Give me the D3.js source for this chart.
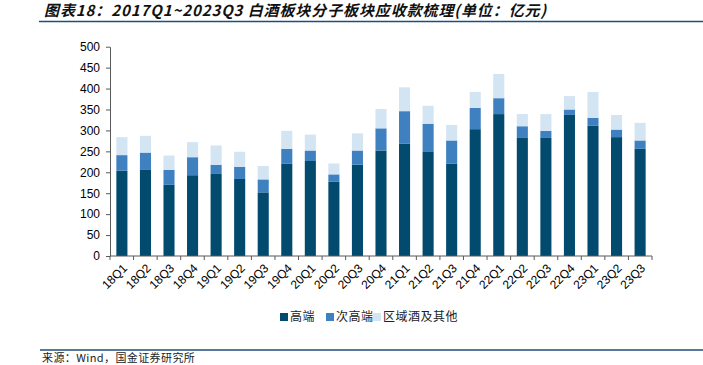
<!DOCTYPE html>
<html lang="zh">
<head>
    <meta charset="UTF-8">
    <title>白酒板块应收款</title>
    <script src="https://d3js.org/d3.v7.min.js"></script>
    <style>
        body { margin: 0; background: #fff; font-family: "Liberation Sans", Arial, sans-serif; }
        .axis path, .axis line { stroke: #595959; }
        .axis text { fill: #000; font-size: 12px; font-family: "Liberation Sans", Arial, sans-serif; }
        .legend text { font-size: 12px; font-family: "Noto Sans CJK SC", sans-serif; fill: #222; letter-spacing: 0.5px; }
    </style>
</head>
<body>
<svg width="703" height="365"></svg>

<script>
    // quarters and the three sub-sector values (亿元)
    const quarters = ["18Q1","18Q2","18Q3","18Q4","19Q1","19Q2","19Q3","19Q4",
                      "20Q1","20Q2","20Q3","20Q4","21Q1","21Q2","21Q3","21Q4",
                      "22Q1","22Q2","22Q3","22Q4","23Q1","23Q2","23Q3"];
    const highEnd   = [204,207,170,193,196,184,152,221,227,178,218,252,268,250,221,303,339,282,282,337,311,284,256];
    const subHigh   = [37, 40, 36, 43, 22, 29, 31, 35, 25, 17, 34, 53, 78, 66, 55, 51, 38, 28, 17, 13, 19, 18, 20];
    const regional  = [43, 40, 34, 36, 46, 36, 32, 43, 38, 26, 41, 46, 57, 43, 37, 38, 58, 29, 40, 32, 62, 35, 42];
    const yTicks = [0,50,100,150,200,250,300,350,400,450,500];

    const seriesNames = ["高端", "次高端", "区域酒及其他"];
    const colors = ["#024a6e", "#3f80c1", "#d3e4f3"];

    const svg = d3.select("svg");

    // title + rules
    svg.append("text")
        .attr("x", 44).attr("y", 16)
        .style("font-family", "'Noto Sans CJK SC', sans-serif")
        .style("font-size", "15px").style("font-weight", "bold").style("font-style", "italic")
        .style("letter-spacing", "0.9px")
        .attr("fill", "#111")
        .text("图表18：2017Q1~2023Q3 白酒板块分子板块应收款梳理(单位：亿元)");
    svg.append("line").attr("x1", 39).attr("x2", 703).attr("y1", 21.5).attr("y2", 21.5)
        .attr("stroke", "#1f4e79").attr("stroke-width", 1.5);
    svg.append("line").attr("x1", 40).attr("x2", 703).attr("y1", 350).attr("y2", 350)
        .attr("stroke", "#1f4e79").attr("stroke-width", 1.5);
    svg.append("text")
        .attr("x", 42).attr("y", 362)
        .style("font-family", "'Noto Sans CJK SC', sans-serif").style("font-size", "11px")
        .style("letter-spacing", "0.4px")
        .attr("fill", "#222")
        .text("来源：Wind，国金证券研究所");

    const mLeft = 110, mRight = 652, mTop = 46.7, mBottom = 256;

    const x = d3.scaleBand().domain(quarters).range([mLeft, mRight]).paddingInner(0.53).paddingOuter(0.27);
    const y = d3.scaleLinear().domain([0, 500]).range([mBottom, mTop]);

    const rows = quarters.map((q, i) => ({ q: q, "高端": highEnd[i], "次高端": subHigh[i], "区域酒及其他": regional[i] }));
    const stacked = d3.stack().keys(seriesNames)(rows);

    svg.append("g").selectAll("g")
        .data(stacked)
        .enter().append("g")
            .attr("fill", (d, i) => colors[i])
        .selectAll("rect")
        .data(d => d)
        .enter().append("rect")
            .attr("x", d => x(d.data.q))
            .attr("width", x.bandwidth())
            .attr("y", d => y(d[1]))
            .attr("height", d => y(d[0]) - y(d[1]));

    // y axis
    svg.append("g")
        .attr("class", "axis")
        .attr("transform", `translate(${mLeft},0)`)
        .call(d3.axisLeft(y).tickValues(yTicks).tickSize(4).tickPadding(6).tickSizeOuter(0));

    // x axis: ticks at band boundaries
    const xa = svg.append("g").attr("class", "axis");
    xa.append("line").attr("x1", mLeft).attr("x2", mRight).attr("y1", mBottom).attr("y2", mBottom);
    xa.selectAll(".tk")
        .data(d3.range(quarters.length + 1))
        .enter().append("line")
            .attr("x1", i => mLeft + i * (mRight - mLeft) / quarters.length)
            .attr("x2", i => mLeft + i * (mRight - mLeft) / quarters.length)
            .attr("y1", mBottom).attr("y2", mBottom + 4);
    xa.selectAll(".lbl")
        .data(quarters)
        .enter().append("text")
            .attr("text-anchor", "end")
            .attr("transform", d => `translate(${x(d) + x.bandwidth() / 2 + 3},${mBottom + 10}) rotate(-45)`)
            .attr("dy", "0.35em")
            .text(d => d);

    // legend
    const legendX = [280, 326, 373];
    const lg = svg.append("g").attr("class", "legend")
        .selectAll("g").data(seriesNames).enter().append("g")
        .attr("transform", (d, i) => `translate(${legendX[i]},317)`);
    lg.append("rect").attr("x", 0).attr("y", -4).attr("width", 8).attr("height", 8)
        .attr("fill", (d, i) => colors[i]);
    lg.append("text").attr("x", 10).attr("y", 0).attr("dy", "0.35em").text(d => d);
</script>

</body>
</html>
